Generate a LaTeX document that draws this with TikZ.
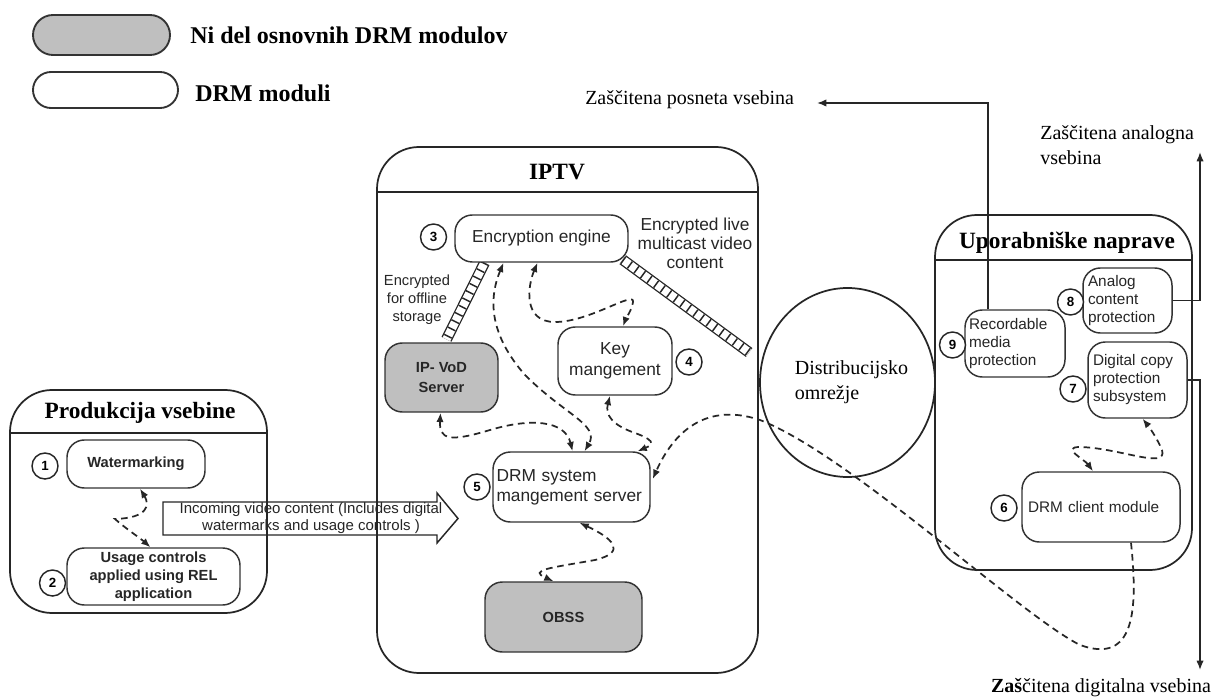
\documentclass[tikz,border=0pt]{standalone}
\usepackage{fontspec}
\setmainfont{Liberation Serif}
\setsansfont{Liberation Sans}
\usetikzlibrary{arrows.meta,shapes.geometric,calc}
\pgfdeclarelayer{bg}
\pgfsetlayers{bg,main}

\begin{document}
\begin{tikzpicture}[x=0.75pt,y=-0.75pt,
  >={Latex[length=7pt,width=5.5pt]},
  sz/.style 2 args={minimum width=#1*0.75pt, minimum height=#2*0.75pt},
  cont/.style={draw=black!85, line width=1.3pt, rounded corners=31.5pt},
  hdr/.style={draw=black!85, line width=1.3pt},
  mod/.style={draw=black!80, line width=1.1pt, rounded corners=13pt, fill=white,
    inner sep=2pt, align=center, text=black!85,
    font=\sffamily\fontsize{13}{15}\selectfont},
  greymod/.style={mod, fill=black!25},
  bmod/.style={font=\sffamily\bfseries\fontsize{11}{13.5}\selectfont},
  rmod/.style={align=left, font=\sffamily\fontsize{11.5}{13.5}\selectfont},
  numc/.style={circle, draw=black!85, line width=1.1pt, fill=white, minimum size=19.5pt,
    inner sep=0pt, font=\sffamily\bfseries\fontsize{10}{10}\selectfont},
  ttl/.style={inner sep=0pt, font=\rmfamily\bfseries\fontsize{17.5}{20}\selectfont},
  lab/.style={inner sep=0pt, font=\rmfamily\fontsize{15}{18.75}\selectfont},
  small/.style={inner sep=0pt, align=center, text=black!85,
    font=\sffamily\fontsize{13}{14.25}\selectfont},
  dashcon/.style={draw=black!85, line width=1.3pt, dash pattern=on 5pt off 3.5pt},
  solcon/.style={draw=black!85, line width=1.1pt},
  hatchband/.style={line width=8.25pt, draw=black!85, line cap=butt,
    postaction={draw=white, line width=6.3pt},
    postaction={draw=black!85, line width=6.3pt, dash pattern=on 1.1pt off 5pt}}
]
\useasboundingbox (0,0) rectangle (1216,698);
\begin{pgfonlayer}{bg}
  \fill[white] (0,0) rectangle (1216,698);
\end{pgfonlayer}

% ---------- legend ----------
\node[greymod, sz={137}{40}, rounded corners=15pt, line width=1.4pt] (legA) at (101.5,35) {};
\node[mod, sz={145}{36}, rounded corners=13.5pt, line width=1.4pt] (legB) at (105.5,90) {};
\node[inner sep=0pt, anchor=west, font=\rmfamily\bfseries\fontsize{18}{20}\selectfont] (legAt) at (190,35) {Ni del osnovnih DRM modulov};
\node[inner sep=0pt, anchor=west, font=\rmfamily\bfseries\fontsize{18}{20}\selectfont] (legBt) at (195,93) {DRM moduli};

% ---------- content production ----------
\draw[cont] (10,390) rectangle (267,613);
\draw[hdr] (10,433) -- (267,433);
\node[ttl] (prodt) at (140,413) {Produkcija vsebine};
\node[mod, bmod, sz={138}{48}] (wm) at (136,464) {Watermarking};
\node[mod, bmod, sz={173}{57}] (use) at (153.5,576.5) {Usage controls\\applied using REL\\application};
\node[numc] (n1) at (45,466) {1};
\node[numc] (n2) at (52.5,583) {2};

% ---------- IPTV ----------
\draw[cont] (377,147) rectangle (758,673);
\draw[hdr] (377,192) -- (758,192);
\node[ttl] (iptvt) at (557,172) {IPTV};
\node[mod, sz={173}{47}] (enc) at (541.5,238.5) {Encryption engine};
\node[greymod, sz={113}{69}, font=\sffamily\bfseries\fontsize{11}{15}\selectfont] (vod) at (441.5,377.5) {IP- VoD\\Server};
\node[mod, sz={114}{68}, font=\sffamily\fontsize{13}{15.75}\selectfont] (key) at (615,361) {Key\\mangement};
\node[mod, sz={157}{70}, text width=112.5pt, align=left] (drm) at (571.5,487) {DRM system\\mangement server};
\node[greymod, bmod, sz={157}{70}] (obss) at (563.5,617) {OBSS};
\node[numc] (n3) at (433.5,237) {3};
\node[numc] (n4) at (689,362) {4};
\node[numc] (n5) at (477,487) {5};
\node[small] (livet) at (695,243) {Encrypted live\\multicast video\\content};
\node[small, font=\sffamily\fontsize{11}{13.5}\selectfont] (offt) at (417,300) {Encrypted\\for offline\\storage};

% ---------- distribution network ----------
\node[ellipse, draw=black!85, line width=1.3pt, minimum width=131.25pt, minimum height=141.75pt, inner sep=0pt] (dist) at (847.5,382.5) {};
\node[lab, align=left] (distt) at (851.5,382.5) {Distribucijsko\\omrežje};

% ---------- user devices ----------
\draw[cont] (935,215) rectangle (1192,570);
\draw[hdr] (935,260) -- (1192,260);
\node[ttl] (devt) at (1067,243) {Uporabniške naprave};
\node[mod, rmod, sz={100}{67}, text width=69pt] (rec) at (1015,343.5) {Recordable\\media\\protection};
\node[mod, rmod, sz={89}{65}, text width=59.25pt] (ana) at (1127.5,300.5) {Analog\\content\\protection};
\node[mod, rmod, sz={99}{76}, text width=66.75pt] (dig) at (1137.5,380) {Digital copy\\protection\\subsystem};
\node[mod, rmod, sz={158}{70}, text width=109.5pt] (drmc) at (1101,507) {DRM client module};
\node[numc] (n6) at (1004,508) {6};
\node[numc] (n7) at (1073,389) {7};
\node[numc] (n8) at (1070.5,302) {8};
\node[numc] (n9) at (952.5,345) {9};

% ---------- outputs ----------
\node[lab, anchor=west] (posn) at (585,100) {Zaščitena posneta vsebina};
\node[lab, anchor=west, align=left] (analab) at (1040,145.5) {Zaščitena analogna\\vsebina};
\node[lab] (diglab) at (1101,688) {\textbf{Zaš}čitena digitalna vsebina};
\coordinate (posTip) at (817,103);
\coordinate (anaTip) at (1200,152);
\coordinate (digTip) at (1200,670);

\draw[solcon,->] ($(rec.north)+(-27,0)$) |- (posTip);
\draw[solcon,->] (ana.east) -| (anaTip);
\draw[solcon,->] (dig.east) -| (digTip);

% ---------- incoming content arrow ----------
\draw[line width=1.1pt, draw=black!85] (163,502) -- (437,502) -- (437,493) -- (458,518.5) -- (437,543) -- (437,535) -- (163,535) -- cycle;
\node[inner sep=0pt, align=center, text=black!85, font=\sffamily\fontsize{11.25}{12.75}\selectfont] (inct) at (311,518.5) {Incoming video content (Includes digital\\watermarks and usage controls )};

% ---------- encrypted streams ----------
\begin{pgfonlayer}{bg}
\draw[hatchband] ($(enc.south)+(-57,0)$) -- ($(vod.north)+(5,-3)$);
\draw[hatchband] ($(enc.south east)+(-6,-3)$) -- ($(dist.west)+(-10,-30)$);
\end{pgfonlayer}

% ---------- control flows ----------
\draw[dashcon,<->] ($(wm.south)+(4,0)$) .. controls (150,505) and (148,518) .. (115,519) .. controls (125,528) and (140,538) .. ($(use.north)+(-3,0)$);
\draw[dashcon,<->] ($(vod.south)+(-1,0)$) .. controls (439,440) and (450,442) .. (490,430) .. controls (530,418) and (565,420) .. ($(drm.north)+(1,0)$);
\draw[dashcon,<->] ($(enc.south)+(-38,0)$) .. controls (488,300) and (490,335) .. (525,375) .. controls (565,415) and (600,425) .. ($(drm.north)+(13,0)$);
\draw[dashcon,<->] ($(enc.south)+(-4,0)$) .. controls (528,285) and (522,322) .. (555,322) .. controls (590,322) and (635,290) .. (633,302) .. controls (632,310) and (626,318) .. ($(key.north)+(8,0)$);
\draw[dashcon,<->] ($(key.south)+(-5,0)$) .. controls (605,415) and (612,425) .. (635,433) .. controls (660,442) and (650,446) .. ($(drm.north)+(66,0)$);
\draw[dashcon,<->] ($(drm.south)+(8,0)$) .. controls (612,538) and (628,552) .. (595,560) .. controls (550,568) and (528,570) .. ($(obss.north)+(-10,0)$);
\draw[dashcon,->] ($(drmc.south)+(30,0)$) .. controls (1138,610) and (1135,665) .. (1080,645) .. controls (1020,615) and (850,455) .. (760,420) .. controls (700,400) and (670,440) .. ($(drm.east)+(2,-8)$);
\draw[dashcon,<->] ($(drmc.north)+(-8,0)$) .. controls (1085,460) and (1060,447) .. (1080,447) .. controls (1120,448) and (1168,470) .. (1162,450) .. controls (1158,440) and (1150,428) .. ($(dig.south)+(5,0)$);
\end{tikzpicture}
\end{document}
